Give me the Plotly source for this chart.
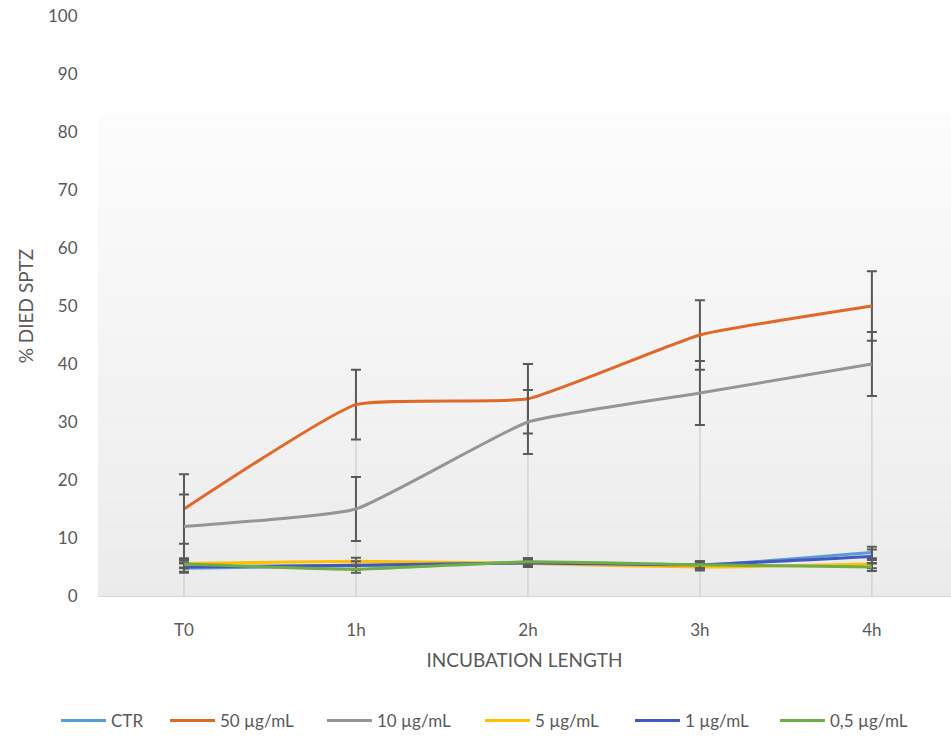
import plotly.graph_objects as go

# ---- data ----
categories = ["T0", "1h", "2h", "3h", "4h"]
series_names = ["CTR", "50 µg/mL", "10 µg/mL", "5 µg/mL", "1 µg/mL", "0,5 µg/mL"]
ctr = [4.8, 5.2, 5.8, 5.3, 7.5]
c50 = [15, 33, 34, 45, 50]
c10 = [12, 15, 30, 35, 40]
c5 = [5.6, 6.0, 5.6, 5.0, 5.5]
c1 = [5.0, 5.3, 5.7, 5.4, 6.8]
c05 = [5.5, 4.6, 5.9, 5.4, 5.0]
err_ctr = [0.8, 0.7, 0.7, 0.6, 1.0]
err_c50 = [6, 6, 6, 6, 6]
err_c10 = [5.5, 5.5, 5.5, 5.5, 5.5]
err_c5 = [0.7, 0.6, 0.6, 0.6, 0.7]
err_c1 = [0.8, 0.7, 0.7, 0.6, 1.2]
err_c05 = [0.7, 0.6, 0.6, 0.6, 0.7]
y_ticks = [0, 10, 20, 30, 40, 50, 60, 70, 80, 90, 100]

values = [ctr, c50, c10, c5, c1, c05]
errors = [err_ctr, err_c50, err_c10, err_c5, err_c1, err_c05]
colors = ["#5B9BD5", "#E0692A", "#959595", "#FFC000", "#4357C0", "#70AD47"]

FONT = "Lato, 'Open Sans', sans-serif"
TXT = "#595959"
L, W = 98, 853  # plot left edge and width in px (layout)

fig = go.Figure()

# background gradient (Excel-like plot area fill), styling only
n = 40
top_val = 83.0
for i in range(n):
    y0 = top_val * i / n
    y1 = top_val * (i + 1) / n
    t = (i + 0.5) / n
    g = int(round(235 + (252 - 235) * t))
    fig.add_shape(type="rect", xref="paper", yref="y", x0=0, x1=1, y0=y0, y1=y1,
                  fillcolor=f"rgb({g},{g},{g})", line_width=0, layer="below")

# drop lines from the highest point of each category to the axis
drop_x, drop_y = [], []
for j, cat in enumerate(categories):
    top = max(v[j] for v in values)
    drop_x += [cat, cat, None]
    drop_y += [0, top, None]
fig.add_trace(go.Scatter(x=drop_x, y=drop_y, mode="lines",
                         line=dict(color="#cfcfcf", width=1.3),
                         showlegend=False, hoverinfo="skip"))

legend_px = [56, 165, 322, 480, 630, 775]  # left px of each legend entry
legend_ids = ["legend", "legend2", "legend3", "legend4", "legend5", "legend6"]

for name, v, e, c, lid in zip(series_names, values, errors, colors, legend_ids):
    fig.add_trace(go.Scatter(
        x=categories, y=v, name=name, mode="lines", legend=lid,
        line=dict(color=c, width=3, shape="spline", smoothing=0.4),
        error_y=dict(type="data", array=e, visible=True, color="#595959",
                     thickness=2, width=5),
    ))

layout_legends = {}
for lid, px in zip(legend_ids, legend_px):
    layout_legends[lid] = dict(
        x=(px - L) / W, xanchor="left", y=-0.215, yanchor="middle",
        orientation="h", font=dict(family=FONT, size=17, color=TXT),
        bgcolor="rgba(0,0,0,0)", itemwidth=45,
    )

fig.update_layout(
    width=951, height=739,
    margin=dict(l=L, r=0, t=16, b=142),
    paper_bgcolor="white", plot_bgcolor="rgba(0,0,0,0)",
    font=dict(family=FONT, color=TXT, size=16),
    showlegend=True,
    **layout_legends,
)
fig.update_xaxes(
    type="category", categoryorder="array", categoryarray=categories,
    range=[-0.5, 4.46], showgrid=False, zeroline=False,
    showline=True, linecolor="#d9d9d9", linewidth=1,
    ticks="outside", ticklen=19, tickcolor="rgba(0,0,0,0)",
    tickfont=dict(family=FONT, size=17, color=TXT),
    title=dict(text="INCUBATION LENGTH", font=dict(family=FONT, size=19, color=TXT), standoff=14),
)
fig.update_yaxes(
    range=[0, 100], tickvals=y_ticks, showgrid=False, zeroline=False, showline=False,
    ticks="outside", ticklen=16, tickcolor="rgba(0,0,0,0)",
    tickfont=dict(family=FONT, size=17, color=TXT),
    title=dict(text="% DIED SPTZ", font=dict(family=FONT, size=19, color=TXT), standoff=9),
)

fig.write_html("out.html")
